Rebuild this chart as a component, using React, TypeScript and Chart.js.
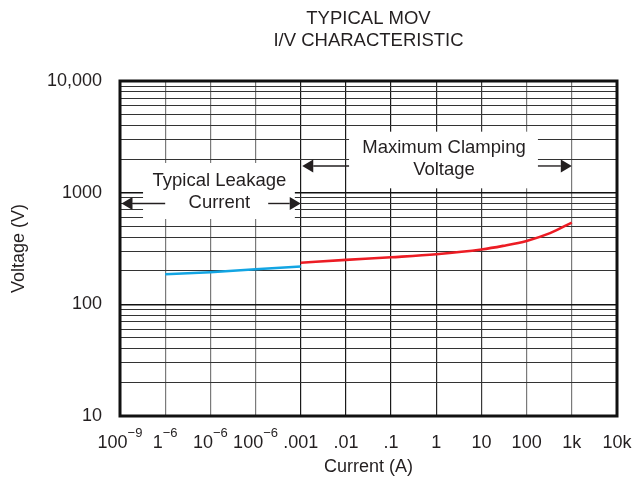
import React, { useEffect, useRef } from "react";
import { Chart, registerables } from "chart.js";

Chart.register(...registerables);

// ---------- text ----------
const titleLines = ["TYPICAL MOV", "I/V CHARACTERISTIC"];
const xAxisTitle = "Current (A)";
const yAxisTitle = "Voltage (V)";

// ---------- x axis (current, A) ----------
const xTickValues = [1e-7, 1e-6, 1e-5, 1e-4, 1e-3, 1e-2, 1e-1, 1, 10, 100, 1000, 10000];
const xTickMain = ["100", "1", "10", "100", ".001", ".01", ".1", "1", "10", "100", "1k", "10k"];
const xTickSup = ["\u22129", "\u22126", "\u22126", "\u22126", "", "", "", "", "", "", "", ""];

// ---------- y axis (voltage, V) ----------
const yMajorValues = [10, 100, 1000, 10000];
const yMajorLabels = ["10", "100", "1000", "10,000"];
const yMinorMultipliers = [2, 3, 4, 5, 6, 7, 8, 9];

// ---------- series ----------
const leakageCurrent = [1e-6, 1e-5, 1e-4, 1e-3];
const leakageVoltage = [186, 194, 206, 218];
const clampCurrent = [1e-3, 1e-2, 1e-1, 1, 10, 30, 100, 330, 1000];
const clampVoltage = [236, 250, 264, 281, 310, 334, 370, 434, 540];

// ---------- annotations (in data coordinates) ----------
const leakageLabel = ["Typical Leakage", "Current"];
const clampLabel = ["Maximum Clamping", "Voltage"];

const annotations = [
  {
    lines: leakageLabel,
    textX: 10 ** -4.8,
    textY: [1153, 725],
    box: { x0: 10 ** -6.49, x1: 10 ** -3.13, y0: 1845, y1: 581 },
    arrowY: 800,
    leftArrow: { tail: 1e-6, tip: 1e-7 },
    rightArrow: { tail: 10 ** -3.72, tip: 1e-3 },
  },
  {
    lines: clampLabel,
    textX: 10 ** 0.171,
    textY: [2254, 1439],
    box: { x0: 10 ** -1.93, x1: 10 ** 2.25, y0: 3516, y1: 1094 },
    arrowY: 1734,
    leftArrow: { tail: 10 ** -1.93, tip: 1e-3 },
    rightArrow: { tail: 10 ** 2.25, tip: 1e3 },
  },
];

const FONT = "'Liberation Sans', Arial, Helvetica, sans-serif";
const INK = "#231f20";

const yGridValues: number[] = [];
yMajorValues.forEach((m, i) => {
  yGridValues.push(m);
  if (i < yMajorValues.length - 1) yMinorMultipliers.forEach((k) => yGridValues.push(m * k));
});
yGridValues.sort((a, b) => a - b);

const xGridColors = ["#111", "#7a7a7a", "#7a7a7a", "#7a7a7a", "#1a1a1a", "#1a1a1a", "#1a1a1a", "#2a2a2a", "#3a3a3a", "#7a7a7a", "#7a7a7a", "#111"];

function drawArrow(ctx: CanvasRenderingContext2D, xTail: number, xTip: number, y: number) {
  const dir = xTip > xTail ? 1 : -1;
  const headLen = 11;
  const headHalf = 6.5;
  ctx.beginPath();
  ctx.moveTo(xTail, y);
  ctx.lineTo(xTip - dir * headLen, y);
  ctx.lineWidth = 1.4;
  ctx.strokeStyle = INK;
  ctx.stroke();
  ctx.beginPath();
  ctx.moveTo(xTip, y);
  ctx.lineTo(xTip - dir * headLen, y - headHalf);
  ctx.lineTo(xTip - dir * headLen, y + headHalf);
  ctx.closePath();
  ctx.fillStyle = INK;
  ctx.fill();
}

const movPlugin = {
  id: "movPlugin",
  beforeDatasetsDraw(chart: any) {
    const { ctx, scales } = chart;
    const x = scales.x;
    const y = scales.y;
    ctx.save();
    for (const a of annotations) {
      const bx0 = x.getPixelForValue(a.box.x0);
      const bx1 = x.getPixelForValue(a.box.x1);
      const by0 = y.getPixelForValue(a.box.y0);
      const by1 = y.getPixelForValue(a.box.y1);
      ctx.fillStyle = "#ffffff";
      ctx.fillRect(bx0, by0, bx1 - bx0, by1 - by0);
    }
    for (const a of annotations) {
      const ay = y.getPixelForValue(a.arrowY);
      drawArrow(ctx, x.getPixelForValue(a.leftArrow.tail), x.getPixelForValue(a.leftArrow.tip) + 1.5, ay);
      drawArrow(ctx, x.getPixelForValue(a.rightArrow.tail), x.getPixelForValue(a.rightArrow.tip), ay);
      ctx.fillStyle = INK;
      ctx.font = `18.5px ${FONT}`;
      ctx.textAlign = "center";
      ctx.textBaseline = "alphabetic";
      const tx = x.getPixelForValue(a.textX);
      a.lines.forEach((line, i) => {
        ctx.fillText(line, tx, y.getPixelForValue(a.textY[i]));
      });
    }
    ctx.restore();
  },
  afterDatasetsDraw(chart: any) {
    const { ctx, chartArea } = chart;
    ctx.save();
    ctx.strokeStyle = "#111";
    ctx.lineWidth = 3;
    ctx.strokeRect(chartArea.left, chartArea.top, chartArea.right - chartArea.left, chartArea.bottom - chartArea.top);
    ctx.restore();
  },
  afterDraw(chart: any) {
    const { ctx, chartArea, scales } = chart;
    const x = scales.x;
    ctx.save();
    ctx.fillStyle = INK;
    ctx.textBaseline = "alphabetic";
    // title
    ctx.font = `18.5px ${FONT}`;
    ctx.textAlign = "center";
    const cx = (chartArea.left + chartArea.right) / 2;
    ctx.fillText(titleLines[0], cx, 15.5);
    ctx.fillText(titleLines[1], cx, 38);
    // x tick labels with superscripts
    ctx.textAlign = "left";
    const mainBase = chartArea.bottom + 32.3;
    const supBase = chartArea.bottom + 20.7;
    xTickValues.forEach((v, i) => {
      const px = x.getPixelForValue(v);
      ctx.font = `18px ${FONT}`;
      const wm = ctx.measureText(xTickMain[i]).width;
      ctx.font = `13px ${FONT}`;
      const ws = xTickSup[i] ? ctx.measureText(xTickSup[i]).width : 0;
      const start = px - (wm + ws) / 2;
      ctx.font = `18px ${FONT}`;
      ctx.fillText(xTickMain[i], start, mainBase);
      if (xTickSup[i]) {
        ctx.font = `13px ${FONT}`;
        ctx.fillText(xTickSup[i], start + wm, supBase);
      }
    });
    ctx.restore();
  },
};

export default function App() {
  const ref = useRef<HTMLCanvasElement>(null);
  useEffect(() => {
    if (!ref.current) return;
    Chart.defaults.font.family = FONT;
    const chart = new Chart(ref.current, {
      type: "line",
      data: {
        datasets: [
          {
            label: "Typical Leakage",
            data: leakageCurrent.map((c, i) => ({ x: c, y: leakageVoltage[i] })),
            borderColor: "#12a5e3",
            borderWidth: 2.6,
            pointRadius: 0,
            tension: 0,
          },
          {
            label: "Maximum Clamping",
            data: clampCurrent.map((c, i) => ({ x: c, y: clampVoltage[i] })),
            borderColor: "#ec1c24",
            borderWidth: 2.6,
            pointRadius: 0,
            cubicInterpolationMode: "monotone",
          },
        ],
      },
      options: {
        animation: false,
        responsive: true,
        maintainAspectRatio: false,
        layout: { padding: { top: 73, right: 15, left: 0, bottom: 0 } },
        plugins: {
          legend: { display: false },
          tooltip: { enabled: false },
          title: { display: false },
        },
        scales: {
          x: {
            type: "logarithmic",
            min: xTickValues[0],
            max: xTickValues[xTickValues.length - 1],
            afterBuildTicks: (scale: any) => {
              scale.ticks = xTickValues.map((v) => ({ value: v }));
            },
            afterFit: (scale: any) => {
              scale.height = 65;
            },
            ticks: { display: false },
            grid: {
              drawTicks: false,
              color: (c: any) => xGridColors[c.index] ?? "#444",
              lineWidth: 1.2,
            },
            border: { display: false },
            title: {
              display: true,
              text: xAxisTitle,
              color: INK,
              font: { size: 18, family: FONT },
              padding: { top: 0, bottom: 3 },
            },
          },
          y: {
            type: "logarithmic",
            min: yMajorValues[0],
            max: yMajorValues[yMajorValues.length - 1],
            afterBuildTicks: (scale: any) => {
              scale.ticks = yGridValues.map((v) => ({ value: v }));
            },
            afterFit: (scale: any) => {
              scale.width = 112;
            },
            ticks: {
              autoSkip: false,
              padding: 18,
              color: INK,
              font: { size: 18, family: FONT },
              callback: (value: any) => {
                const idx = yMajorValues.findIndex((m) => Math.abs(m - Number(value)) < 1e-6 * m);
                return idx >= 0 ? yMajorLabels[idx] : "";
              },
            },
            grid: {
              drawTicks: false,
              color: (c: any) => {
                const v = c.tick ? c.tick.value : 0;
                return yMajorValues.includes(v) ? "#111" : "#333";
              },
              lineWidth: (c: any) => {
                const v = c.tick ? c.tick.value : 0;
                return yMajorValues.includes(v) ? 1.6 : 1.1;
              },
            },
            border: { display: false },
            title: {
              display: true,
              text: yAxisTitle,
              color: INK,
              font: { size: 18, family: FONT },
              padding: { top: 0, bottom: 0 },
            },
          },
        },
      } as any,
      plugins: [movPlugin],
    });
    return () => chart.destroy();
  }, []);

  return (
    <div style={{ position: "fixed", left: 8, top: 8, width: 624, height: 473 }}>
      <canvas ref={ref} />
    </div>
  );
}
